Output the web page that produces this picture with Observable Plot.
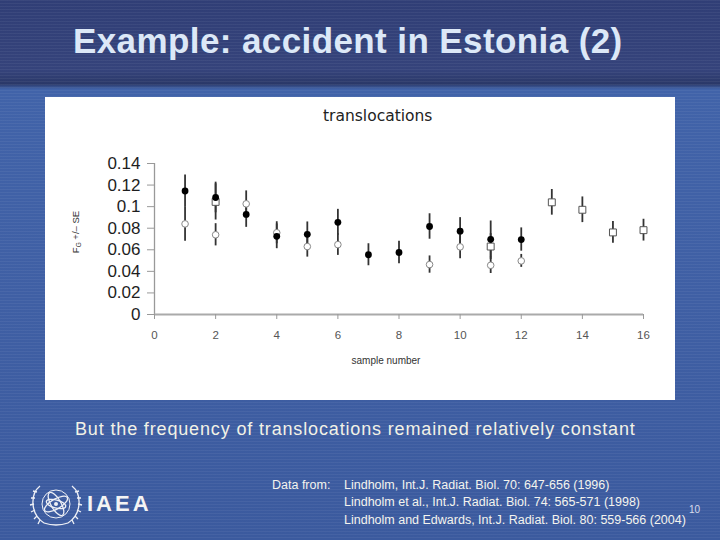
<!DOCTYPE html>
<html>
<head>
<meta charset="utf-8">
<script src="https://cdn.jsdelivr.net/npm/d3@7"></script>
<script src="https://cdn.jsdelivr.net/npm/@observablehq/plot@0.6"></script>
<style>
  html, body { margin: 0; padding: 0; }
  body { width: 720px; height: 540px; overflow: hidden; }
  #slide {
    position: relative; width: 720px; height: 540px; overflow: hidden;
    background:
      repeating-linear-gradient(to bottom, rgba(255,255,255,0.05) 0 1px, rgba(0,0,0,0) 1px 3px),
      linear-gradient(to bottom, #303e76 0px, #35437b 70px, #2a3868 84px, #4163a9 89px, #3f5fa4 300px, #3b5a9e 540px);
    font-family: "Liberation Sans", Arial, sans-serif;
  }
  #title {
    position: absolute; left: 73px; top: 21px; white-space: nowrap;
    font-family: "Liberation Sans", Arial, sans-serif; font-weight: bold;
    font-size: 35px; color: #dce8f7; letter-spacing: 0.4px;
  }
  #panel { position: absolute; left: 45px; top: 97px; width: 630px; height: 303px; background: #fff; }
  #chart { position: absolute; left: 0; top: 0; }
  .ptxt { position: absolute; white-space: nowrap; color: #222; }
  #ctitle { left: 323px; top: 107px; width: 90px; text-align: center; font-family: "DejaVu Sans", sans-serif; font-size: 15.5px; color: #222; }
  #xlab { font-size: 10px; color: #333; top: 355px; left: 336px; width: 100px; text-align: center; }
  #ylab { font-size: 9.5px; color: #333; left: 76px; top: 232px; transform: translate(-50%, -50%) rotate(-90deg); }
  #caption {
    position: absolute; left: 75px; top: 419px; white-space: nowrap;
    font-size: 18px; letter-spacing: 0.85px; color: #f2f2e6;
  }
  #cite { position: absolute; left: 272px; top: 477px; font-size: 12.5px; color: #f4f4ee; line-height: 17.3px; }
  #cite .lab { position: absolute; left: 0; top: 0; white-space: nowrap; }
  #cite .refs { position: absolute; left: 72px; top: 0; white-space: nowrap; }
  #pnum { position: absolute; left: 689px; top: 504px; font-size: 10px; color: #d8dcec; }
  #logo { position: absolute; left: 28px; top: 480px; }
  #iaea { position: absolute; left: 87px; top: 491px; font-weight: bold; font-size: 22px; color: #f4f4f4; letter-spacing: 3px; }
</style>
</head>
<body>
<div id="slide">
  <div id="title">Example: accident in Estonia (2)</div>
  <div id="panel"></div>
  <div id="ctitle" class="ptxt">translocations</div>
  <div id="xlab" class="ptxt">sample number</div>
  <div id="ylab" class="ptxt">F<sub style="font-size:6.5px">G</sub> +/– SE</div>
  <div id="caption">But the frequency of translocations remained relatively constant</div>
  <div id="cite">
    <div class="lab">Data from:</div>
    <div class="refs">Lindholm, Int.J. Radiat. Biol. 70: 647-656 (1996)<br>Lindholm et al., Int.J. Radiat. Biol. 74: 565-571 (1998)<br>Lindholm and Edwards, Int.J. Radiat. Biol. 80: 559-566 (2004)</div>
  </div>
  <div id="pnum">10</div>
  <svg id="logo" width="56" height="48" viewBox="0 0 56 48">
    <g fill="none" stroke="#eef0f6" stroke-width="1.3">
      <path d="M12 6 C2 14, 2 34, 16 43" />
      <path d="M44 6 C54 14, 54 34, 40 43" />
      <path d="M9 12 l-4 -1 M7 18 l-4 0 M6 24 l-4 1 M7 30 l-4 2 M9 36 l-3 3 M12 40 l-2 4" />
      <path d="M47 12 l4 -1 M49 18 l4 0 M50 24 l4 1 M49 30 l4 2 M47 36 l3 3 M44 40 l2 4" />
      <circle cx="28" cy="24" r="14" stroke-width="1" />
      <ellipse cx="28" cy="24" rx="13" ry="5" transform="rotate(60 28 24)" />
      <ellipse cx="28" cy="24" rx="13" ry="5" transform="rotate(-30 28 24)" />
      <ellipse cx="28" cy="24" rx="10" ry="4" transform="rotate(15 28 24)" />
      <path d="M16 43 Q28 47 40 43" />
    </g>
    <circle cx="28" cy="24" r="2" fill="#eef0f6" />
  </svg>
  <div id="iaea">IAEA</div>
</div>
<script>
// ---- data ----
const xTicks = [0, 2, 4, 6, 8, 10, 12, 14, 16];
const yTicks = [0, 0.02, 0.04, 0.06, 0.08, 0.1, 0.12, 0.14];
const yTickLabels = ["0", "0.02", "0.04", "0.06", "0.08", "0.1", "0.12", "0.14"];

// filled circles
const samplesA = [1, 2, 3, 4, 5, 6, 7, 8, 9, 10, 11, 12];
const valuesA  = [0.1145, 0.1085, 0.0928, 0.0725, 0.0743, 0.0855, 0.0554, 0.0575, 0.0816, 0.0773, 0.0697, 0.0695];
const seA      = [0.0148, 0.0142, 0.012, 0.0115, 0.0115, 0.012, 0.0102, 0.0105, 0.0118, 0.0125, 0.017, 0.0108];

// open circles
const samplesB = [1, 2, 3, 4, 5, 6, 9, 10, 11, 12];
const valuesB  = [0.084, 0.0739, 0.1026, 0.0758, 0.063, 0.0648, 0.0463, 0.0627, 0.0456, 0.0497];
const seB      = [0.016, 0.0103, 0.012, 0.0102, 0.0098, 0.0100, 0.008, 0.011, 0.0076, 0.006];

// open squares
const samplesC = [2, 11, 13, 14, 15, 16];
const valuesC  = [0.1044, 0.063, 0.104, 0.0971, 0.0761, 0.0782];
const seC      = [0.0168, 0.012, 0.0119, 0.0119, 0.0101, 0.0101];

const mk = (s, v, e) => s.map((x, i) => ({x, y: v[i], lo: v[i] - e[i], hi: v[i] + e[i]}));
const A = mk(samplesA, valuesA, seA);
const B = mk(samplesB, valuesB, seB);
const C = mk(samplesC, valuesC, seC);

const chart = Plot.plot({
  width: 630,
  height: 303,
  marginLeft: 109,
  marginRight: 32,
  marginTop: 66,
  marginBottom: 86,
  style: {background: "transparent", fontFamily: "Liberation Sans, Arial, sans-serif", overflow: "visible"},
  x: {domain: [0, 16]},
  y: {domain: [0, 0.14]},
  marks: [
    Plot.ruleX([0], {y1: 0, y2: 0.14, stroke: "#999", strokeWidth: 1.3}),
    Plot.ruleY([0], {x1: 0, x2: 16, stroke: "#aaa", strokeWidth: 2}),
    Plot.axisY({ticks: yTicks, tickFormat: (d) => yTickLabels[yTicks.indexOf(d)], tickSize: 7, tickPadding: 7,
                fontSize: 17, stroke: "#999", fill: "#1e1e1e", label: null}),
    Plot.axisX({ticks: xTicks, tickSize: 5, tickPadding: 11, fontSize: 11.5, stroke: "#999", fill: "#555", label: null}),
    Plot.ruleX(A, {x: "x", y1: "lo", y2: "hi", stroke: "#333", strokeWidth: 1.8}),
    Plot.ruleX(B, {x: "x", y1: "lo", y2: "hi", stroke: "#333", strokeWidth: 1.8}),
    Plot.ruleX(C, {x: "x", y1: "lo", y2: "hi", stroke: "#333", strokeWidth: 1.8}),
    Plot.dot(B, {x: "x", y: "y", r: 3.3, fill: "white", stroke: "#888", strokeWidth: 1}),
    Plot.dot(C, {x: "x", y: "y", r: 3.9, symbol: "square", fill: "white", stroke: "#555", strokeWidth: 1}),
    Plot.dot(A, {x: "x", y: "y", r: 3.4, fill: "black", stroke: "none"})
  ]
});
chart.id = "chart";
document.getElementById("panel").appendChild(chart);
</script>
</body>
</html>
